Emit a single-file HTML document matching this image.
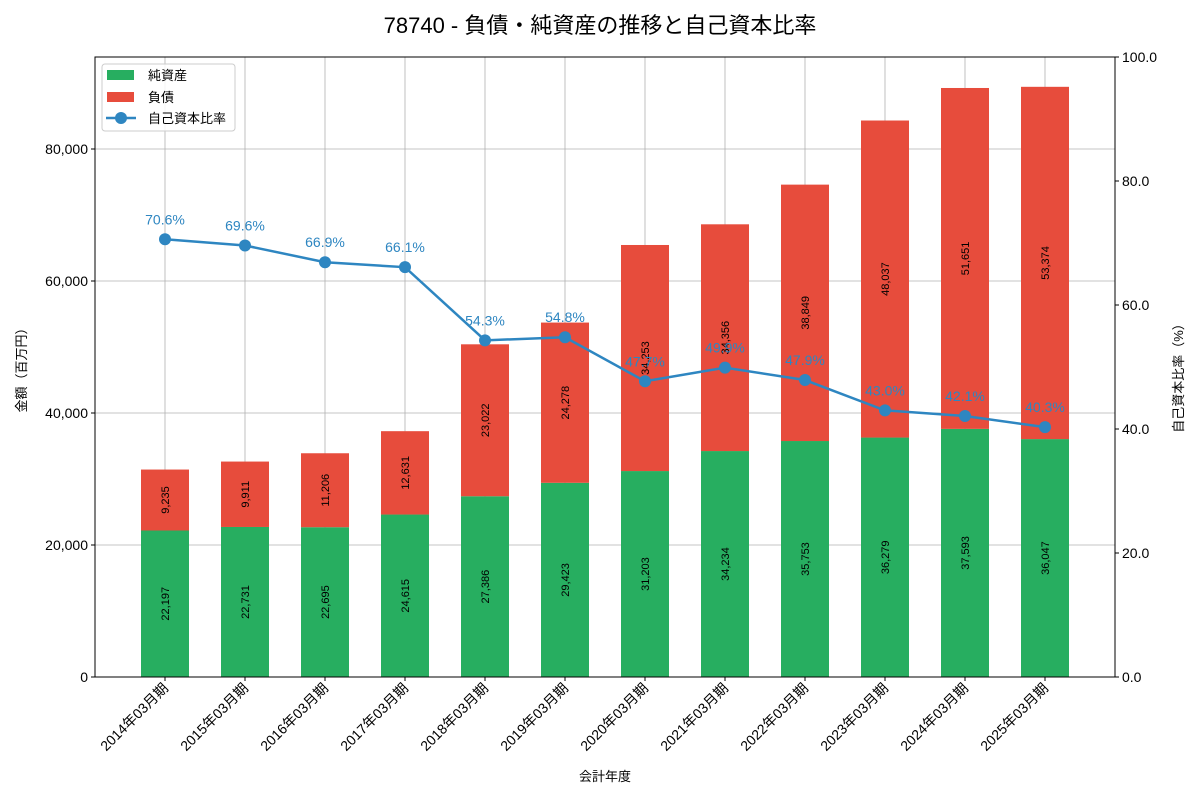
<!DOCTYPE html>
<html><head><meta charset="utf-8"><style>
body{margin:0;background:#fff;}
svg text{font-family:"Liberation Sans","Noto Sans CJK JP",sans-serif;}
</style></head><body>
<svg id="c" width="1200" height="800" xmlns="http://www.w3.org/2000/svg">
<text x="600" y="33" text-anchor="middle" font-size="22" fill="#000">78740 - 負債・純資産の推移と自己資本比率</text>
<g id="grid"></g><g id="bars"></g><g id="line"></g><g id="axes"></g>
</svg>
<script>
const categories=["2014年03月期","2015年03月期","2016年03月期","2017年03月期","2018年03月期","2019年03月期","2020年03月期","2021年03月期","2022年03月期","2023年03月期","2024年03月期","2025年03月期"];
const equity=[22197,22731,22695,24615,27386,29423,31203,34234,35753,36279,37593,36047];
const liabilities=[9235,9911,11206,12631,23022,24278,34253,34356,38849,48037,51651,53374];
const ratio=[70.6,69.6,66.9,66.1,54.3,54.8,47.7,49.9,47.9,43.0,42.1,40.3];
const leftTicks=[0,20000,40000,60000,80000];
const rightTicks=[0,20,40,60,80,100];
const NS="http://www.w3.org/2000/svg";
const L=95,R=1115,T=57,B=677;
const yL=v=>B-v*(B-T)/93939;
const yR=v=>B-v*(B-T)/100;
const xC=i=>L+(i+0.875)*(R-L)/12.75;
function mk(parent,tag,attrs,text){const e=document.createElementNS(NS,tag);for(const k in attrs)e.setAttribute(k,attrs[k]);if(text!==undefined)e.textContent=text;document.getElementById(parent).appendChild(e);return e;}
const fmt=v=>v.toLocaleString('en-US');
// grid
categories.forEach((c,i)=>{const g=mk('grid','line',{x1:xC(i),x2:xC(i),y1:T,y2:B,stroke:'#b0b0b0','stroke-width':0.8});

});
leftTicks.forEach(v=>{const g=mk('grid','line',{x1:L,x2:R,y1:yL(v),y2:yL(v),stroke:'#b0b0b0','stroke-width':0.8});

});
// bars
const bw=48;
categories.forEach((c,i)=>{
 const x=xC(i)-bw/2;
 const r1=mk('bars','rect',{x:x,y:yL(equity[i]),width:bw,height:B-yL(equity[i]),fill:'#27ae60'});
 
 
 const top=equity[i]+liabilities[i];
 const r2=mk('bars','rect',{x:x,y:yL(top),width:bw,height:yL(equity[i])-yL(top),fill:'#e74c3c'});
 
 
 const m1=yL(equity[i]/2), m2=yL(equity[i]+liabilities[i]/2);
 const t1=mk('bars','text',{x:xC(i)+4,y:m1,'font-size':11,'text-anchor':'middle',transform:`rotate(-90 ${xC(i)+4} ${m1})`},fmt(equity[i]));
 
 
 const t2=mk('bars','text',{x:xC(i)+4,y:m2,'font-size':11,'text-anchor':'middle',transform:`rotate(-90 ${xC(i)+4} ${m2})`},fmt(liabilities[i]));
 
 
});
// line
const pts=ratio.map((v,i)=>xC(i)+','+yR(v)).join(' ');
const pl=mk('line','polyline',{points:pts,fill:'none',stroke:'#2e86c1','stroke-width':2.5});


ratio.forEach((v,i)=>{
 const c=mk('line','circle',{cx:xC(i),cy:yR(v),r:6,fill:'#2e86c1'});
 
 
 const t=mk('line','text',{x:xC(i),y:yR(v)-15,'font-size':14,'text-anchor':'middle',fill:'#2e86c1'},v.toFixed(1)+'%');
 
 
});
// axes frame
const fr=mk('axes','rect',{x:L,y:T,width:R-L,height:B-T,fill:'none',stroke:'#000','stroke-width':1});


leftTicks.forEach(v=>{mk('axes','line',{x1:L-4,x2:L,y1:yL(v),y2:yL(v),stroke:'#000'});
 const t=mk('axes','text',{x:L-7,y:yL(v)+5,'font-size':14,'text-anchor':'end'},fmt(v));
 
 });
rightTicks.forEach(v=>{mk('axes','line',{x1:R,x2:R+4,y1:yR(v),y2:yR(v),stroke:'#000'});
 const t=mk('axes','text',{x:R+7,y:yR(v)+5,'font-size':14,'text-anchor':'start'},v.toFixed(1));
 
 });
categories.forEach((c,i)=>{mk('axes','line',{x1:xC(i),x2:xC(i),y1:B,y2:B+4,stroke:'#000'});
 const x=xC(i)+4,y=B+12;
 const t=mk('axes','text',{x:x,y:y,'font-size':14,'text-anchor':'end',transform:`rotate(-45 ${x} ${y})`},c);
 
 });
let t=mk('axes','text',{x:605,y:781,'font-size':13,'text-anchor':'middle'},'会計年度');


t=mk('axes','text',{x:26,y:367,'font-size':13,'text-anchor':'middle',transform:'rotate(-90 26 367)'},'金額（百万円）');


t=mk('axes','text',{x:1183,y:375,'font-size':13,'text-anchor':'middle',transform:'rotate(-90 1183 375)'},'自己資本比率（%）');


// legend
const lg=mk('axes','rect',{x:102,y:64,width:133,height:67,rx:3,fill:'#fff','fill-opacity':0.85,stroke:'#ccc'});


mk('axes','rect',{x:107,y:70,width:27,height:10,fill:'#27ae60'});
mk('axes','rect',{x:107,y:92,width:27,height:10,fill:'#e74c3c'});
mk('axes','line',{x1:106,x2:136,y1:118,y2:118,stroke:'#2e86c1','stroke-width':2.5});
mk('axes','circle',{cx:121,cy:118,r:6,fill:'#2e86c1'});
[['純資産',80,'legend-entry-equity'],['負債',102,'legend-entry-liabilities'],['自己資本比率',123,'legend-entry-ratio']].forEach(a=>{
 const e=mk('axes','text',{x:148,y:a[1],'font-size':13},a[0]);
 
 });
</script>
</body></html>
